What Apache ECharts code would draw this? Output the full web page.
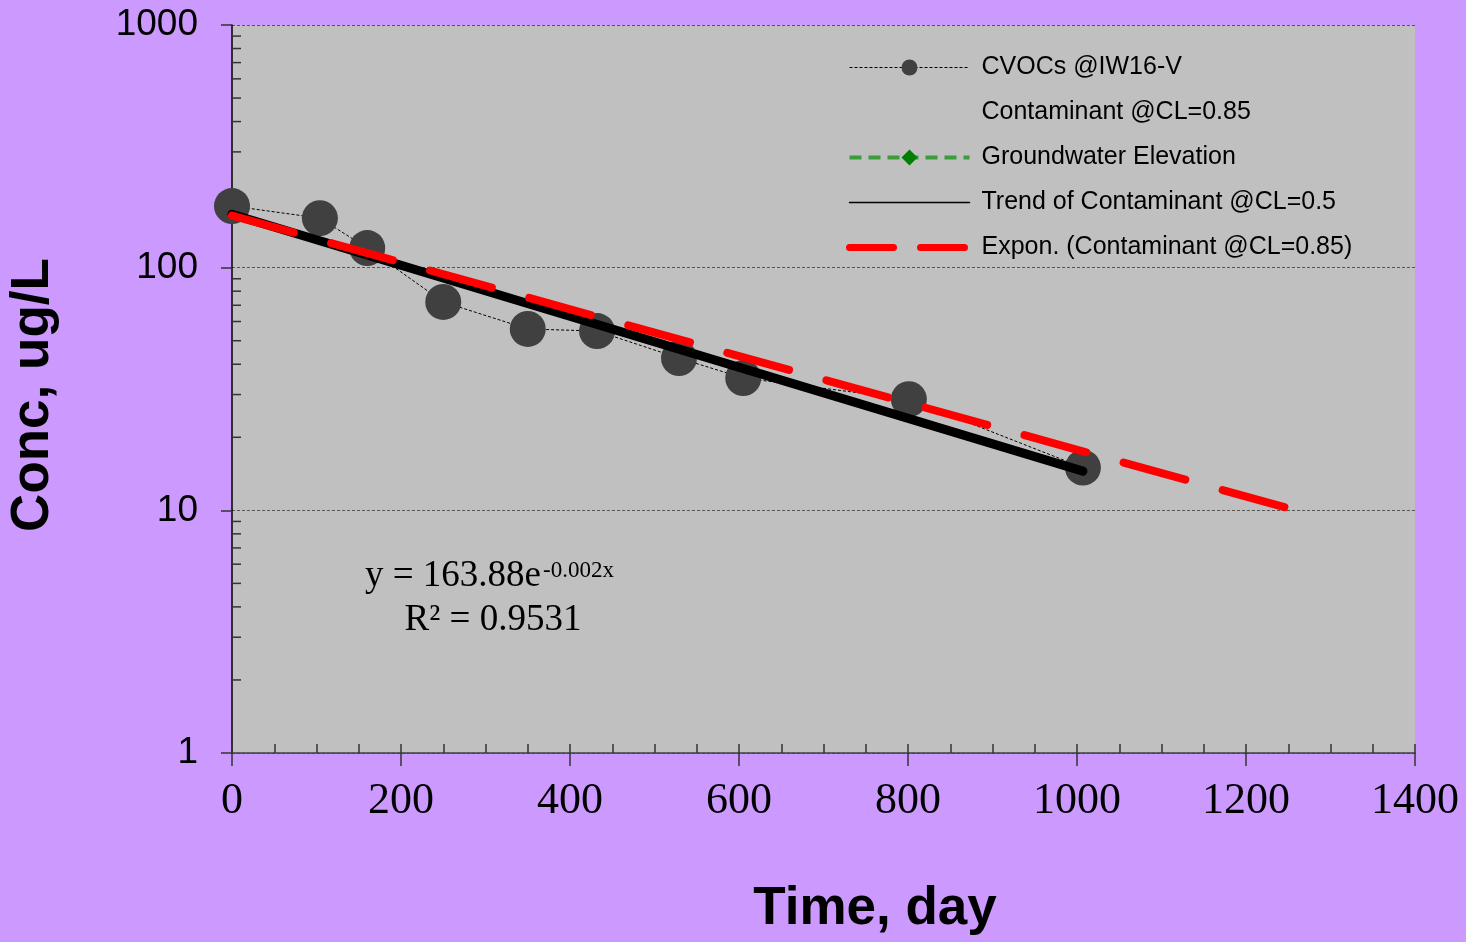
<!DOCTYPE html>
<html>
<head>
<meta charset="utf-8">
<script src="https://cdn.jsdelivr.net/npm/echarts@6/dist/echarts.min.js"></script>
<style>
  html, body { margin: 0; padding: 0; background: #cc99ff; }
  #main { width: 1466px; height: 942px; }
</style>
</head>
<body>
<div id="main"></div>
<script>
// measured points, CVOCs @IW16-V
var days = [0, 104, 160, 250, 350, 432, 529, 605, 801, 1007];
var conc = [179.5, 160, 120.5, 72.2, 55.9, 54.8, 42.4, 35.1, 28.7, 15];
// trend of contaminant @CL=0.5 (end points)
var trendDays = [0, 1007];
var trendConc = [166, 14.5];
// expon. fit (end points of the drawn fit)
var exponDays = [0, 1250];
var exponConc = [163.9, 10.2];
// groundwater elevation: nothing plotted on this axis range
var gwDays = [];
var gwElev = [];
// log minor tick positions
var yMinorTicks = [2, 3, 4, 5, 6, 7, 8, 9, 20, 30, 40, 50, 60, 70, 80, 90, 200, 300, 400, 500, 600, 700, 800, 900];

var SANS = "'Liberation Sans', Arial, sans-serif";
var SERIF = "'Liberation Serif', 'Times New Roman', serif";

function pairs(xs, ys) {
  return xs.map(function (x, i) { return [x, ys[i]]; });
}

// plain numbers, no thousands separator
function plain(v) {
  return String(Math.round(v));
}

/**
 * 初始化图
 * @param dom 为div的id
 */
function initChart(dom) {
  var myChart = echarts.init(document.getElementById(dom));
  var option = {
    animation: false,
    backgroundColor: '#cc99ff',
    grid: {
      left: 232, right: 51, top: 25, bottom: 189,
      show: true, backgroundColor: '#c0c0c0', borderWidth: 0
    },
    legend: {
      orient: 'vertical',
      left: 846, top: 55,
      itemWidth: 120, itemHeight: 20, itemGap: 20,
      padding: 0,
      textStyle: { fontFamily: SANS, fontSize: 25, color: '#000', padding: [0, 0, 0, 7] },
      data: [
        { name: 'CVOCs @IW16-V', lineStyle: { width: 1 } },
        { name: 'Contaminant @CL=0.85', itemStyle: { opacity: 0 }, lineStyle: { opacity: 0 } },
        { name: 'Groundwater Elevation', lineStyle: { width: 4, type: [12, 7] } },
        { name: 'Trend of Contaminant @CL=0.5', itemStyle: { opacity: 0 }, lineStyle: { width: 1.5 } },
        { name: 'Expon. (Contaminant @CL=0.85)', itemStyle: { opacity: 0 }, lineStyle: { width: 7, type: [44, 27], cap: 'round' } }
      ]
    },
    xAxis: [
      {
        type: 'value', min: 0, max: 1400, interval: 200,
        axisLine: { onZero: false, lineStyle: { color: '#404040', width: 1.5 } },
        axisTick: { length: 13, lineStyle: { color: '#333', width: 1.5 } },
        axisLabel: { fontFamily: SERIF, fontSize: 44, color: '#000', margin: 26, formatter: plain },
        splitLine: { show: false }
      },
      {
        // minor ticks every 50 days, pointing into the plot
        type: 'value', min: 0, max: 1400, interval: 50, position: 'bottom',
        axisLine: { show: false },
        axisTick: { inside: true, length: 9, lineStyle: { color: '#333', width: 1.5 } },
        axisLabel: { show: false },
        splitLine: { show: false }
      }
    ],
    yAxis: {
      type: 'log', logBase: 10, min: 1, max: 1000,
      axisLine: { show: true, lineStyle: { color: '#000', width: 1.5 } },
      axisTick: { show: true, length: 11, lineStyle: { color: '#333', width: 1.5 } },
      axisLabel: { fontFamily: SANS, fontSize: 37, color: '#000', margin: 34, formatter: plain },
      splitLine: { show: true, lineStyle: { color: '#555', width: 1, type: [3, 2] } }
    },
    graphic: [
      {
        type: 'text', x: 875, y: 909,
        style: { text: 'Time, day', fontFamily: SANS, fontWeight: 'bold', fontSize: 53, fill: '#000', align: 'center', verticalAlign: 'middle' }
      },
      {
        type: 'text', x: 33, y: 395, rotation: Math.PI / 2,
        style: { text: 'Conc, ug/L', fontFamily: SANS, fontWeight: 'bold', fontSize: 53, fill: '#000', align: 'center', verticalAlign: 'middle' }
      },
      {
        type: 'text', x: 365, y: 576,
        style: { text: 'y = 163.88e', fontFamily: SERIF, fontSize: 37, fill: '#000', align: 'left', verticalAlign: 'middle' }
      },
      {
        type: 'text', x: 543, y: 571,
        style: { text: '-0.002x', fontFamily: SERIF, fontSize: 23, fill: '#000', align: 'left', verticalAlign: 'middle' }
      },
      {
        type: 'text', x: 493, y: 620,
        style: { text: 'R² = 0.9531', fontFamily: SERIF, fontSize: 37, fill: '#000', align: 'center', verticalAlign: 'middle' }
      }
    ],
    series: [
      {
        type: 'custom',
        silent: true,
        data: yMinorTicks.map(function (v) { return [0, v]; }),
        renderItem: function (params, api) {
          var p = api.coord([api.value(0), api.value(1)]);
          return {
            type: 'line',
            shape: { x1: p[0], y1: p[1], x2: p[0] + 9, y2: p[1] },
            style: { stroke: '#333', lineWidth: 1.5 }
          };
        }
      },
      {
        name: 'CVOCs @IW16-V',
        type: 'line',
        data: pairs(days, conc),
        symbol: 'circle', symbolSize: 36,
        itemStyle: { color: '#404040' },
        lineStyle: { color: '#000', width: 1, type: [3, 2] },
        z: 3
      },
      {
        name: 'Contaminant @CL=0.85',
        type: 'line',
        data: [],
        symbol: 'none',
        itemStyle: { color: '#ffffff' },
        lineStyle: { opacity: 0 }
      },
      {
        name: 'Groundwater Elevation',
        type: 'line',
        data: pairs(gwDays, gwElev),
        symbol: 'diamond', symbolSize: 10,
        itemStyle: { color: '#008000' },
        lineStyle: { color: '#3c9c3c', width: 3, type: [12, 7] }
      },
      {
        name: 'Trend of Contaminant @CL=0.5',
        type: 'line',
        data: pairs(trendDays, trendConc),
        symbol: 'none',
        itemStyle: { color: '#000' },
        lineStyle: { color: '#000', width: 9, cap: 'round' },
        z: 4
      },
      {
        name: 'Expon. (Contaminant @CL=0.85)',
        type: 'line',
        data: pairs(exponDays, exponConc),
        symbol: 'none',
        itemStyle: { color: '#ff0000' },
        lineStyle: { color: '#ff0000', width: 8, type: [64, 38.8], cap: 'round' },
        z: 5
      }
    ]
  };
  myChart.setOption(option);
  return myChart;
}

initChart('main');
</script>
</body>
</html>
